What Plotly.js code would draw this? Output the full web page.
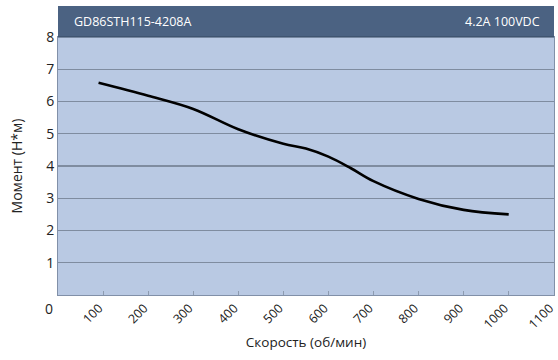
<!DOCTYPE html>
<html><head><meta charset="utf-8">
<script src="https://cdn.plot.ly/plotly-3.0.1.min.js"></script>
<style>body{margin:0;background:#fff}#c{width:558px;height:360px}</style>
</head><body><div id="c"></div>
<script>
const speed = [90, 200, 300, 400, 500, 550, 600, 650, 700, 800, 900, 1000];
const torque = [6.58, 6.18, 5.77, 5.14, 4.69, 4.54, 4.29, 3.93, 3.53, 2.98, 2.64, 2.5];
const xTicks = [100, 200, 300, 400, 500, 600, 700, 800, 900, 1000, 1100];
const yTicks = [1, 2, 3, 4, 5, 6, 7, 8];
const modelName = "GD86STH115-4208A";
const ratingText = "4.2A 100VDC";
const xTitle = "Скорость (об/мин)";
const yTitle = "Момент (Н*м)";

const font = "Open Sans, Noto Sans, sans-serif";
const plotH = 258;
Plotly.newPlot('c', [{
  x: speed, y: torque, type: 'scatter', mode: 'lines',
  line: {color: '#000', width: 2.6, shape: 'spline', smoothing: 1},
  hoverinfo: 'none'
}], {
  width: 558, height: 360,
  margin: {l: 58, r: 4, t: 37, b: 65},
  paper_bgcolor: '#fff', plot_bgcolor: '#b9c9e3',
  showlegend: false,
  font: {family: font, size: 13, color: '#222'},
  xaxis: {
    range: [0, 1100.5], tickvals: xTicks, ticktext: xTicks.map(String),
    tickangle: -45, ticks: 'inside', ticklen: 4, tickcolor: '#8d9bb0',
    ticklabeloverflow: 'allow', ticklabelshift: -4,
    showgrid: false, zeroline: false, showline: true, linecolor: '#8190a8', linewidth: 1, mirror: true,
    tickfont: {family: font, size: 12.5, color: '#222'},
    title: {text: xTitle, font: {family: font, size: 13.5, color: '#222'}, standoff: 6}
  },
  yaxis: {
    range: [0, 8], tickvals: yTicks, ticktext: yTicks.map(String),
    showgrid: true, gridcolor: '#7f8ca0', gridwidth: 1.3, zeroline: false,
    showline: true, linecolor: '#8190a8', linewidth: 1, mirror: true,
    ticks: '', tickfont: {family: font, size: 14, color: '#222'},
    title: {text: yTitle, font: {family: font, size: 14, color: '#222'}, standoff: 20}
  },
  shapes: [{
    type: 'rect', xref: 'paper', yref: 'paper', x0: 0, x1: 1, y0: 1, y1: 1 + 31 / plotH,
    fillcolor: '#4b6282', line: {width: 0}, layer: 'above'
  }, {
    type: 'line', xref: 'paper', yref: 'paper', x0: 0, x1: 1, y0: 1, y1: 1,
    line: {color: '#34465f', width: 1.2}
  }],
  annotations: [{
    xref: 'paper', yref: 'paper', x: 0, y: 1 + 15 / plotH, xanchor: 'left', yanchor: 'middle',
    xshift: 14, text: modelName, showarrow: false, font: {family: font, size: 12.5, color: '#fff'}
  }, {
    xref: 'paper', yref: 'paper', x: 1, y: 1 + 15 / plotH, xanchor: 'right', yanchor: 'middle',
    xshift: -12, text: ratingText, showarrow: false, font: {family: font, size: 12.5, color: '#fff'}
  }, {
    xref: 'x', yref: 'y', x: 0, y: 0, xanchor: 'right', yanchor: 'middle',
    xshift: -3, yshift: -13, text: '0', showarrow: false, font: {family: font, size: 14, color: '#222'}
  }]
}, {staticPlot: true});
</script></body></html>
